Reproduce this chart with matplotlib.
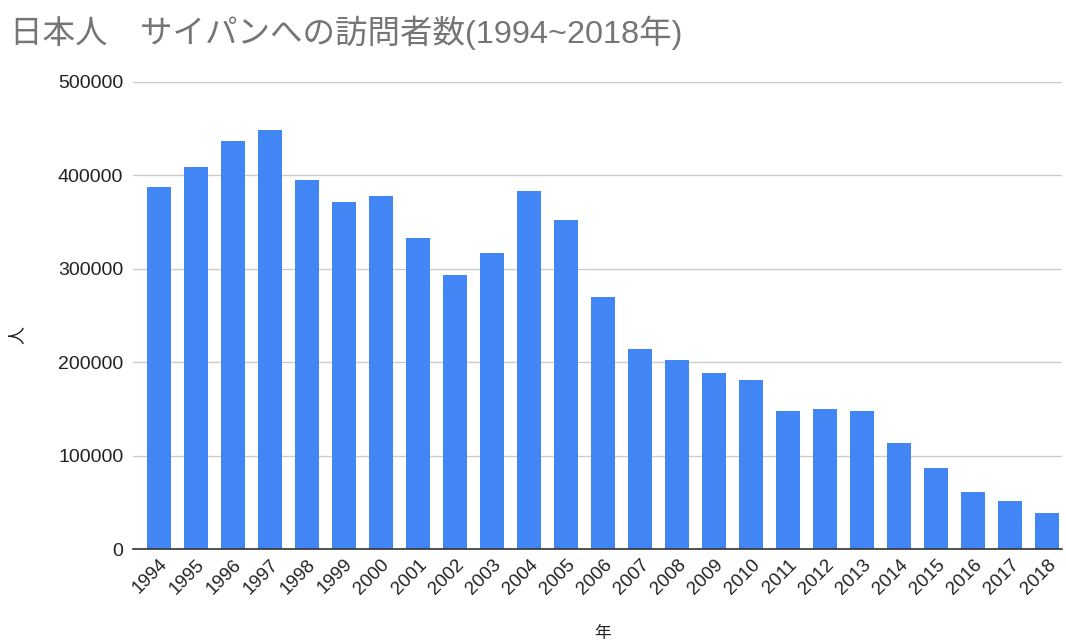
import matplotlib
matplotlib.use('Agg')
import matplotlib.pyplot as plt

plt.rcParams['font.family'] = ['Liberation Sans', 'Noto Sans CJK JP']

# 年ごとの訪問者数
years = [str(y) for y in range(1994, 2019)]
visitors = [388000, 409000, 437000, 449000, 395000, 371000, 378000, 333000,
            293000, 317000, 383000, 352000, 270000, 214000, 202000, 188000,
            181000, 148000, 150000, 148000, 114000, 87000, 61000, 51000, 39000]
yticks = [0, 100000, 200000, 300000, 400000, 500000]

fig = plt.figure(figsize=(10.66, 6.44), dpi=100)
ax = fig.add_axes([0.1248, 0.1475, 0.8714, 0.7252])

ax.bar(range(len(years)), visitors, width=0.65, color='#4285F4', zorder=3)

ax.set_xlim(-0.7, 24.4)
ax.set_ylim(0, 500000)
ax.set_yticks(yticks)
ax.set_yticklabels([str(v) for v in yticks], fontsize=14, color='#222222')
ax.set_xticks(range(len(years)))
ax.set_xticklabels(years, rotation=45, ha='right', rotation_mode='anchor',
                   fontsize=13.5, color='#222222')
ax.tick_params(axis='both', length=0)
ax.tick_params(axis='y', pad=7)
ax.tick_params(axis='x', pad=5)

ax.grid(axis='y', color='#cccccc', lw=1, zorder=0)
for s in ['top', 'right', 'left']:
    ax.spines[s].set_visible(False)
ax.spines['bottom'].set_color('#333333')
ax.spines['bottom'].set_linewidth(1.2)
ax.spines['bottom'].set_zorder(4)

# 軸ラベル
fig.text(603 / 1066, 1 - 633 / 644, '年', fontsize=12, color='#222222',
         ha='center', va='center')
fig.text(17 / 1066, 1 - 335 / 644, '人', fontsize=13, color='#222222',
         ha='center', va='center', rotation=90)

fig.text(10 / 1066, 1 - 33 / 644, '日本人　サイパンへの訪問者数(1994~2018年)',
         fontsize=23.4, color='#757575', ha='left', va='center')

plt.savefig('out.png', dpi=100)
